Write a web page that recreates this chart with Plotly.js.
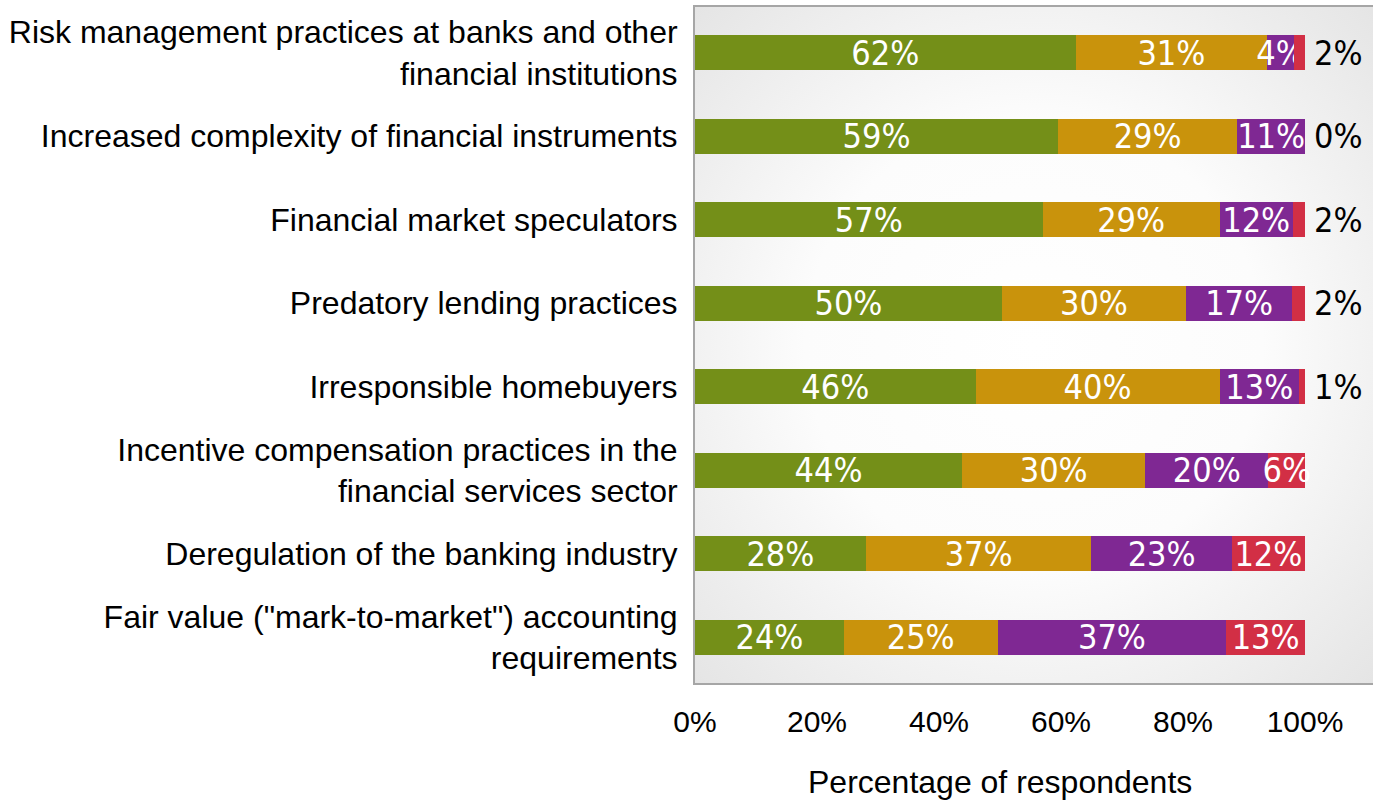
<!DOCTYPE html>
<html>
<head>
<meta charset="utf-8">
<script src="https://cdn.plot.ly/plotly-3.0.1.min.js"></script>
<style>
html,body{margin:0;padding:0;background:#fff;}
#chart{width:1373px;height:801px;}
#chart .bars text{font-stretch:condensed !important;}
</style>
</head>
<body>
<div id="chart"></div>
<script>
// Categories (top to bottom)
const categories = [
  "Risk management practices at banks and other<br>financial institutions",
  "Increased complexity of financial instruments",
  "Financial market speculators",
  "Predatory lending practices",
  "Irresponsible homebuyers",
  "Incentive compensation practices in the<br>financial services sector",
  "Deregulation of the banking industry",
  "Fair value (\"mark-to-market\") accounting<br>requirements"
];
// Segment widths (percent of respondents)
const greenVals  = [62.4, 59.5, 57.0, 50.3, 46.0, 43.8, 28.0, 24.4];
const orangeVals = [31.4, 29.4, 29.0, 30.2, 40.0, 30.0, 37.0, 25.2];
const purpleVals = [4.4, 11.1, 12.0, 17.4, 13.0, 20.2, 23.0, 37.5];
const redVals    = [1.8, 0.0, 2.0, 2.1, 1.0, 6.0, 12.0, 12.9];
// Printed labels
const greenLabels  = ["62%", "59%", "57%", "50%", "46%", "44%", "28%", "24%"];
const orangeLabels = ["31%", "29%", "29%", "30%", "40%", "30%", "37%", "25%"];
const purpleLabels = ["4%", "11%", "12%", "17%", "13%", "20%", "23%", "37%"];
const redLabels    = ["2%", "0%", "2%", "2%", "1%", "6%", "12%", "13%"];
const redPositions = ["outside", "outside", "outside", "outside", "outside", "inside", "inside", "inside"];
const xTicks = [0, 20, 40, 60, 80, 100];
const xTickText = ["0%", "20%", "40%", "60%", "80%", "100%"];

const labelFont = "DejaVu Sans Condensed, Liberation Sans Narrow, DejaVu Sans, sans-serif";
function seg(vals, labels, color, positions, templates) {
  return {
    type: "bar", orientation: "h",
    y: categories, x: vals,
    text: labels,
    texttemplate: templates || "%{text}",
    textposition: positions || "inside",
    insidetextanchor: "middle",
    constraintext: "none",
    textangle: 0,
    cliponaxis: false,
    textfont: {family: labelFont, size: 34, color: "#ffffff"},
    insidetextfont: {family: labelFont, size: 34, color: "#ffffff"},
    outsidetextfont: {family: labelFont, size: 34, color: "#000000"},
    marker: {color: color, line: {width: 0}},
    hoverinfo: "skip"
  };
}
const redTemplates = redPositions.map(p => p === "outside" ? "\u2009%{text}" : "%{text}");
const data = [
  seg(greenVals, greenLabels, "#748f18"),
  seg(orangeVals, orangeLabels, "#c9930c"),
  seg(purpleVals, purpleLabels, "#7f2893"),
  seg(redVals, redLabels, "#d22f45", redPositions, redTemplates)
];

const bgSvg = '<svg xmlns="http://www.w3.org/2000/svg" width="100" height="100" preserveAspectRatio="none">' +
  '<defs><radialGradient id="g" cx="50%" cy="50%" r="75%"><stop offset="0" stop-color="#ffffff"/>' +
  '<stop offset="0.45" stop-color="#fcfcfc"/><stop offset="1" stop-color="#e2e2e2"/></radialGradient></defs>' +
  '<rect width="100" height="100" fill="url(#g)"/></svg>';

const axisFont = "Liberation Sans, Arial, sans-serif";
const layout = {
  width: 1373, height: 801,
  margin: {l: 695, r: 0, t: 7, b: 118},
  paper_bgcolor: "#ffffff",
  plot_bgcolor: "rgba(0,0,0,0)",
  barmode: "stack",
  bargap: 0.58,
  showlegend: false,
  font: {family: axisFont, color: "#000000"},
  images: [{
    source: "data:image/svg+xml;charset=utf-8," + encodeURIComponent(bgSvg),
    xref: "paper", yref: "paper", x: 0, y: 1, sizex: 1, sizey: 1,
    sizing: "stretch", xanchor: "left", yanchor: "top", layer: "below"
  }],
  xaxis: {
    range: [0, 111.15], tickvals: xTicks, ticktext: xTickText,
    showgrid: false, zeroline: false,
    showline: true, mirror: true, linecolor: "#a6a6a6", linewidth: 2,
    ticks: "", ticklabelstandoff: 11,
    tickfont: {family: axisFont, size: 30, color: "#000000"}
  },
  yaxis: {
    range: [7.545, -0.545], showgrid: false, zeroline: false,
    showline: true, mirror: true, linecolor: "#a6a6a6", linewidth: 2,
    ticks: "", ticklabelstandoff: 9,
    tickfont: {family: axisFont, size: 32, color: "#000000"}
  },
  annotations: [{
    text: "Percentage of respondents", xref: "x", yref: "paper",
    x: 50, y: 0, yshift: -99, showarrow: false,
    xanchor: "center", yanchor: "middle",
    font: {family: axisFont, size: 32, color: "#000000"}
  }]
};
Plotly.newPlot("chart", data, layout, {displayModeBar: false, staticPlot: true});
</script>
</body>
</html>
